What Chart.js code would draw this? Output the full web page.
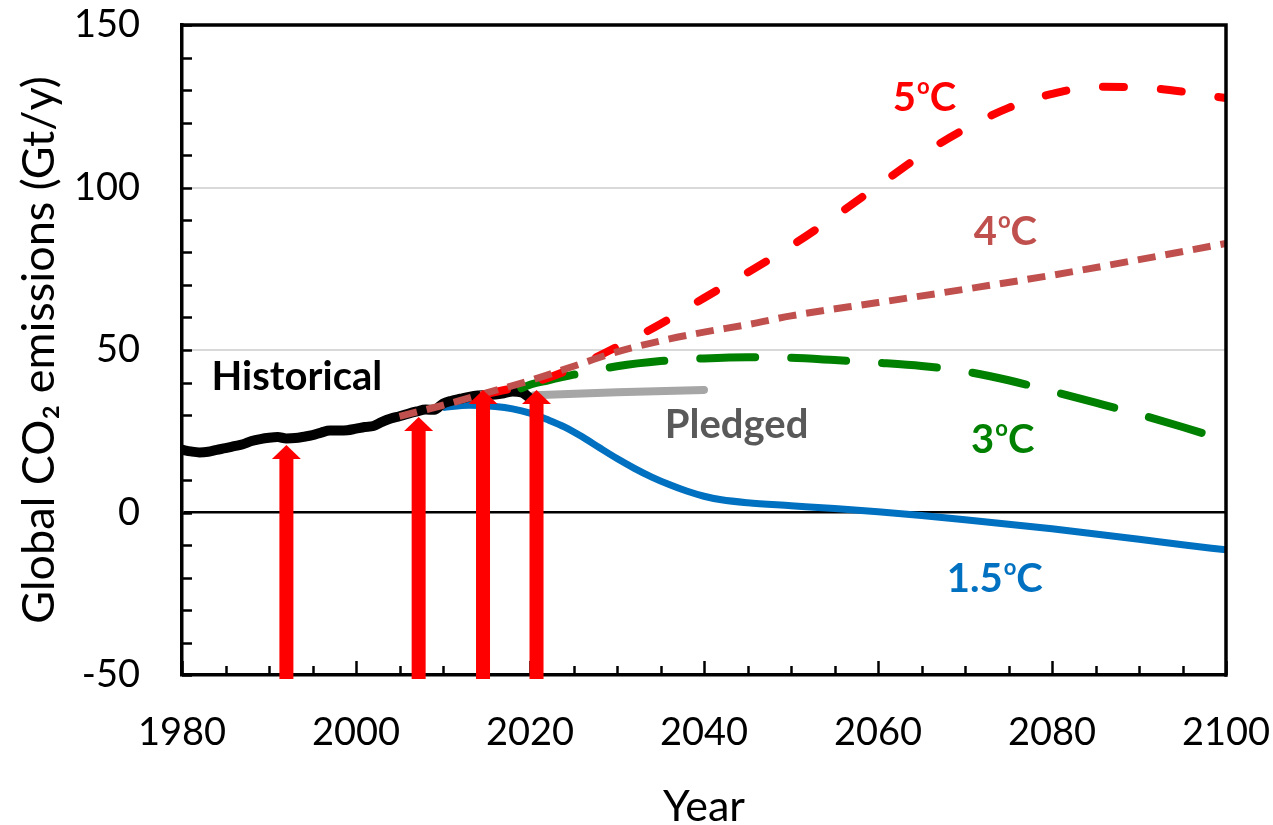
<!DOCTYPE html>
<html>
<head>
<meta charset="utf-8">
<script src="https://cdn.jsdelivr.net/npm/chart.js@4.4.0/dist/chart.umd.min.js"></script>
<style>
  html, body { margin: 0; padding: 0; background: #ffffff; }
  canvas { display: block; }
</style>
</head>
<body>
<canvas id="chart" width="1273" height="825" style="width:1273px;height:825px"></canvas>
<script>
// ---- Data (Gt CO2 per year) ----
const historicalYears = [1980,1981,1982,1983,1984,1985,1986,1987,1988,1989,1990,1991,1992,1993,1994,1995,1996,1997,1998,1999,2000,2001,2002,2003,2004,2005,2006,2007,2008,2009,2010,2011,2012,2013,2014,2015,2016,2017,2018,2019,2020];
const historicalValues = [19.3,18.8,18.5,18.7,19.3,19.8,20.4,21.0,22.0,22.6,23.0,23.2,22.8,22.9,23.3,23.8,24.6,25.2,25.2,25.3,25.8,26.3,26.6,27.9,28.9,29.6,30.4,31.1,31.7,31.6,33.5,34.4,35.0,35.6,36.0,36.1,36.3,36.7,37.2,37.0,35.2];

const pledgedYears = [2020.5, 2030, 2040];
const pledgedValues = [36.1, 37.0, 37.7];

const path5Years = [2015,2020,2025,2030,2035,2040,2045,2050,2055,2060,2065,2070,2075,2080,2085,2090,2095,2100];
const path5Values = [36.5,39.6,44.5,51.0,58.0,66.0,73.8,82.0,91.0,100.5,110.0,118.0,124.5,128.8,131.0,130.8,129.5,127.5];

const path4Years = [2005,2010,2015,2020,2025,2030,2035,2040,2045,2050,2060,2070,2080,2090,2100];
const path4Values = [29.6,33.0,36.8,40.6,45.0,49.4,52.8,55.5,57.8,60.5,64.6,68.7,73.0,77.8,82.8];

const path3Years = [2019,2020,2022,2025,2030,2035,2040,2045,2050,2055,2060,2065,2070,2075,2080,2085,2090,2095,2100];
const path3Values = [38.2,39.3,40.6,42.4,45.0,46.6,47.4,47.8,47.6,46.9,46.1,45.1,43.4,40.7,37.3,33.8,30.2,26.3,22.2];

const path15Years = [2010,2013,2016,2018,2020,2022,2024,2026,2028,2030,2032,2034,2036,2038,2040,2042,2045,2050,2055,2060,2065,2070,2075,2080,2085,2090,2095,2100];
const path15Values = [32.3,33.0,32.6,31.9,30.6,28.6,26.3,23.3,19.9,16.6,13.6,10.9,8.6,6.6,5.0,3.9,3.0,2.1,1.2,0.2,-0.9,-2.2,-3.6,-5.0,-6.6,-8.2,-9.9,-11.5];

// Years marked with red arrows, and the emission level each arrow points at
const arrowYears = [1992, 2007.2, 2014.6, 2020.75];
const arrowTips = [20.8, 29.4, 37.7, 37.7];

// Axis tick labels
const xTickYears = [1980, 2000, 2020, 2040, 2060, 2080, 2100];
const yTickValues = [-50, 0, 50, 100, 150];

// ---- Series name labels: anchor = left edge / text baseline, in axis units ----
const seriesLabels = [
  { main: 'Historical', sup: '', tail: '', color: '#000000', x: 1983.4, y: 37.7 },
  { main: 'Pledged', sup: '', tail: '', color: '#595959', x: 2035.5, y: 22.9 },
  { main: '5', sup: 'o', tail: 'C', color: '#FF0000', x: 2061.7, y: 123.5 },
  { main: '4', sup: 'o', tail: 'C', color: '#C0504D', x: 2071.0, y: 82.3 },
  { main: '3', sup: 'o', tail: 'C', color: '#008000', x: 2070.7, y: 18.3 },
  { main: '1.5', sup: 'o', tail: 'C', color: '#0070C0', x: 2067.9, y: -24.5 }
];

const toPoints = (xs, ys) => xs.map((x, i) => ({ x: x, y: ys[i] }));

// Frame, inward tick marks, arrows and series labels
const decorations = {
  id: 'decorations',
  afterDatasetsDraw(chart) {
    const { ctx, chartArea: a, scales: { x, y } } = chart;
    ctx.save();

    // top and right frame lines
    ctx.strokeStyle = '#000000';
    ctx.lineWidth = 3.5;
    ctx.lineCap = 'square';
    ctx.beginPath();
    ctx.moveTo(a.left, a.top);
    ctx.lineTo(a.right, a.top);
    ctx.lineTo(a.right, a.bottom);
    ctx.stroke();

    // inward tick marks
    ctx.lineCap = 'butt';
    ctx.lineWidth = 2.5;
    for (let v = -50; v <= 150; v += 10) {
      const py = Math.round(y.getPixelForValue(v)) + 0.5;
      ctx.beginPath();
      ctx.moveTo(a.left, py);
      ctx.lineTo(a.left + 10, py);
      ctx.stroke();
    }
    for (let yr = 1980; yr <= 2100; yr += 5) {
      const px = Math.round(x.getPixelForValue(yr)) + 0.5;
      const len = yr % 20 === 0 ? 14 : 9;
      ctx.beginPath();
      ctx.moveTo(px, a.bottom);
      ctx.lineTo(px, a.bottom - len);
      ctx.stroke();
    }

    // red arrows
    ctx.fillStyle = '#FF0000';
    arrowYears.forEach((yr, i) => {
      const px = x.getPixelForValue(yr);
      const tip = y.getPixelForValue(arrowTips[i]);
      const base = tip + 14;
      const bottom = a.bottom + 4;
      ctx.fillRect(px - 7, base - 0.5, 14, bottom - base + 0.5);
      ctx.beginPath();
      ctx.moveTo(px - 14.5, base);
      ctx.lineTo(px, tip);
      ctx.lineTo(px + 14.5, base);
      ctx.closePath();
      ctx.fill();
    });

    // series labels
    ctx.textBaseline = 'alphabetic';
    ctx.textAlign = 'left';
    seriesLabels.forEach(l => {
      let px = x.getPixelForValue(l.x);
      const py = y.getPixelForValue(l.y);
      ctx.fillStyle = l.color;
      ctx.font = 'bold 40px Lato';
      ctx.fillText(l.main, px, py);
      px += ctx.measureText(l.main).width;
      if (l.sup) {
        ctx.font = 'bold 22px Lato';
        ctx.fillText(l.sup, px + 1, py - 17);
        px += ctx.measureText(l.sup).width + 1;
      }
      if (l.tail) {
        ctx.font = 'bold 40px Lato';
        ctx.fillText(l.tail, px, py);
      }
    });

    ctx.restore();
  }
};

function draw() {
  new Chart(document.getElementById('chart'), {
    type: 'line',
    data: {
      datasets: [
        {
          label: '4oC',
          data: toPoints(path4Years, path4Values),
          borderColor: '#C0504D', borderWidth: 7, borderDash: [18, 10], borderCapStyle: 'butt',
          pointRadius: 0, cubicInterpolationMode: 'monotone', order: 1
        },
        {
          label: '5oC',
          data: toPoints(path5Years, path5Values),
          borderColor: '#FF0000', borderWidth: 8, borderDash: [21, 37], borderCapStyle: 'round',
          pointRadius: 0, cubicInterpolationMode: 'monotone', order: 2
        },
        {
          label: '3oC',
          data: toPoints(path3Years, path3Values),
          borderColor: '#008000', borderWidth: 8, borderDash: [55, 36], borderCapStyle: 'round',
          pointRadius: 0, cubicInterpolationMode: 'monotone', order: 3
        },
        {
          label: 'Historical',
          data: toPoints(historicalYears, historicalValues),
          borderColor: '#000000', borderWidth: 10, borderCapStyle: 'round', borderJoinStyle: 'round',
          pointRadius: 0, cubicInterpolationMode: 'monotone', order: 4
        },
        {
          label: '1.5oC',
          data: toPoints(path15Years, path15Values),
          borderColor: '#0070C0', borderWidth: 7, borderCapStyle: 'butt',
          pointRadius: 0, cubicInterpolationMode: 'monotone', order: 5
        },
        {
          label: 'Pledged',
          data: toPoints(pledgedYears, pledgedValues),
          borderColor: '#A6A6A6', borderWidth: 8, borderCapStyle: 'round',
          pointRadius: 0, cubicInterpolationMode: 'monotone', order: 6
        }
      ]
    },
    options: {
      responsive: false,
      animation: false,
      devicePixelRatio: 1,
      layout: { padding: { left: 0, top: 25, right: 47, bottom: 0 } },
      plugins: { legend: { display: false }, tooltip: { enabled: false } },
      scales: {
        x: {
          type: 'linear',
          min: 1980, max: 2100,
          afterBuildTicks: s => { s.ticks = xTickYears.map(v => ({ value: v })); },
          afterFit: s => { s.height = 150; s.paddingLeft = 0; s.paddingRight = 0; },
          ticks: {
            color: '#000000', font: { family: 'Lato', size: 38 }, padding: 35,
            maxRotation: 0, autoSkip: false, callback: v => String(v)
          },
          grid: { drawOnChartArea: false, drawTicks: false },
          border: { display: true, color: '#000000', width: 3.5 },
          title: {
            display: true, text: 'Year', color: '#000000',
            font: { family: 'Lato', size: 43, lineHeight: 0.6 },
            padding: { top: 0, bottom: 5 }
          }
        },
        y: {
          type: 'linear',
          min: -50, max: 150,
          afterBuildTicks: s => { s.ticks = yTickValues.map(v => ({ value: v })); },
          afterFit: s => { s.width = 182; s.paddingTop = 0; s.paddingBottom = 0; },
          ticks: { color: '#000000', font: { family: 'Lato', size: 38 }, padding: 42, callback: v => String(v) },
          grid: {
            drawTicks: false,
            lineWidth: c => (c.tick && c.tick.value === 0) ? 2.5 : 2,
            color: c => {
              const v = c.tick ? c.tick.value : null;
              if (v === 0) return '#000000';
              if (v === 50 || v === 100) return '#D9D9D9';
              return 'rgba(0,0,0,0)';
            }
          },
          border: { display: true, color: '#000000', width: 3.5 },
          title: {
            display: true, text: 'Global CO₂ emissions (Gt/y)', color: '#000000',
            font: { family: 'Lato', size: 45, lineHeight: 0.6 },
            padding: { top: 25.5, bottom: 0 }
          }
        }
      }
    },
    plugins: [decorations]
  });
}

if (document.fonts && document.fonts.load) {
  Promise.all([
    document.fonts.load('38px Lato'),
    document.fonts.load('bold 40px Lato')
  ]).then(draw, draw);
} else {
  draw();
}
</script>
</body>
</html>
